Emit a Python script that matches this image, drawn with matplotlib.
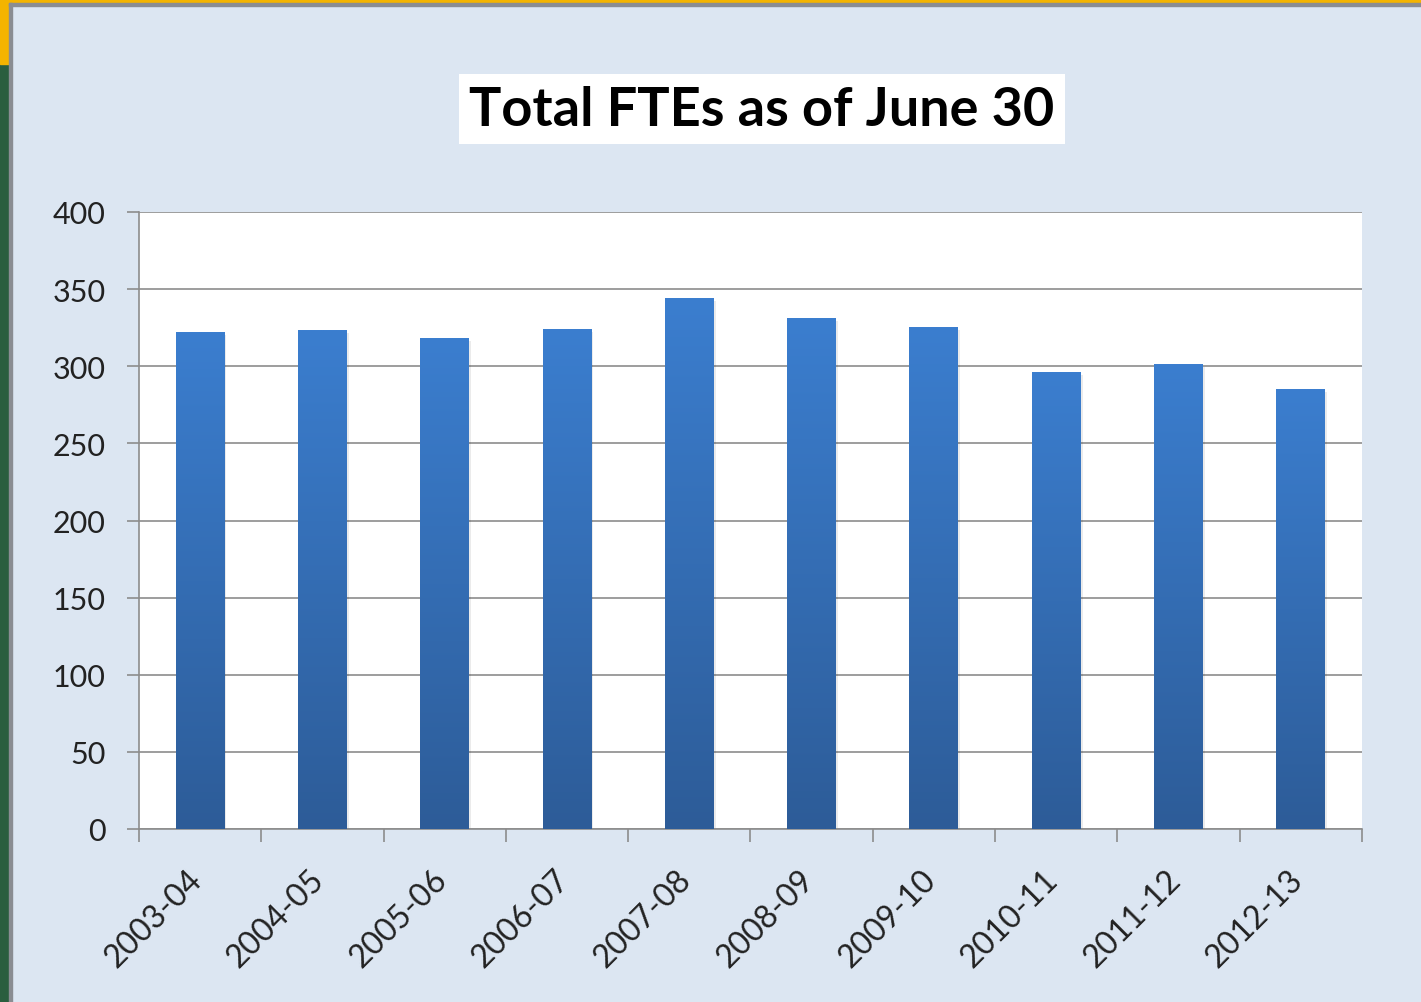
import matplotlib.pyplot as plt
import matplotlib.patches as mpatches
import matplotlib.transforms as mtransforms
import numpy as np

# data
years = ['2003-04', '2004-05', '2005-06', '2006-07', '2007-08',
         '2008-09', '2009-10', '2010-11', '2011-12', '2012-13']
ftes = [322, 323, 318, 324, 344, 331, 325, 296, 301, 285]

plt.rcParams['font.family'] = ['Lato', 'DejaVu Sans']

fig = plt.figure(figsize=(14.21, 10.03), dpi=100)
fig.patch.set_facecolor('#dce6f2')

# slide frame: green strip on the left, orange strip on top, grey border
fig.patches.append(mpatches.Rectangle((0, 0), 9/1421, 1, transform=fig.transFigure,
                                      color='#2a5e3e', zorder=0))
fig.patches.append(mpatches.Rectangle((0, 1 - 4/1003), 1, 4/1003, transform=fig.transFigure,
                                      color='#f4b400', zorder=0))
fig.patches.append(mpatches.Rectangle((0, 1 - 65/1003), 9/1421, 65/1003, transform=fig.transFigure,
                                      color='#f4b400', zorder=0))
fig.patches.append(mpatches.Rectangle((9/1421, 0), 3/1421, 1 - 4/1003, transform=fig.transFigure,
                                      color='#8a8d92', zorder=0))
fig.patches.append(mpatches.Rectangle((9/1421, 1 - 7/1003), 1, 3/1003, transform=fig.transFigure,
                                      color='#8a8d92', zorder=0))

ax = fig.add_axes([139/1421, 173/1003, 1223/1421, 617/1003])
ax.set_facecolor('white')

x = np.arange(len(years))
width = 0.4
bars = ax.bar(x, ftes, width=width, color='none', zorder=3)

# vertical gradient on each bar
grad = np.linspace(0, 1, 256).reshape(-1, 1)
cmap = plt.matplotlib.colors.LinearSegmentedColormap.from_list('b', ['#2d5c98', '#3b7ecf'])
for b in bars:
    bx, bw, bh = b.get_x(), b.get_width(), b.get_height()
    # soft shadow
    ax.add_patch(mpatches.Rectangle((bx + 0.015, 0), bw, bh - 1.5, color='#000000',
                                    alpha=0.08, zorder=2, lw=0))
    ax.imshow(grad, extent=(bx, bx + bw, 0, bh), origin='lower', cmap=cmap,
              aspect='auto', zorder=3)

ax.set_xlim(-0.5, len(years) - 0.5)
ax.set_ylim(0, 400)
ax.set_yticks(range(0, 401, 50))
ax.yaxis.grid(True, color='#8c8c8c', linewidth=1.2, zorder=1)
ax.set_axisbelow(True)

ax.set_xticks(x)
ax.set_xticklabels(years, rotation=45, ha='right', fontsize=23)
ax.set_xticks(np.arange(-0.5, len(years)), minor=True)
ax.tick_params(axis='x', which='major', length=0, pad=25)
ax.tick_params(axis='x', which='minor', length=9, color='#8c8c8c', width=1.2)
ax.tick_params(axis='y', length=9, color='#8c8c8c', width=1.2, labelsize=22, pad=15)
shift = mtransforms.ScaledTranslation(8/100, 0, fig.dpi_scale_trans)
for lab in ax.get_xticklabels():
    lab.set_transform(lab.get_transform() + shift)
for lab in ax.get_yticklabels() + ax.get_xticklabels():
    lab.set_color('#222222')

for s in ['top', 'right']:
    ax.spines[s].set_visible(False)
for s in ['left', 'bottom']:
    ax.spines[s].set_color('#8c8c8c')
    ax.spines[s].set_linewidth(1.2)

fig.text(762/1421, 1 - 110/1003, 'Total FTEs as of June 30', ha='center', va='center',
         fontsize=39, fontweight='bold', color='black',
         bbox=dict(facecolor='white', edgecolor='none', boxstyle='square,pad=0.2'))

plt.savefig('out.png', dpi=100, facecolor=fig.get_facecolor())
